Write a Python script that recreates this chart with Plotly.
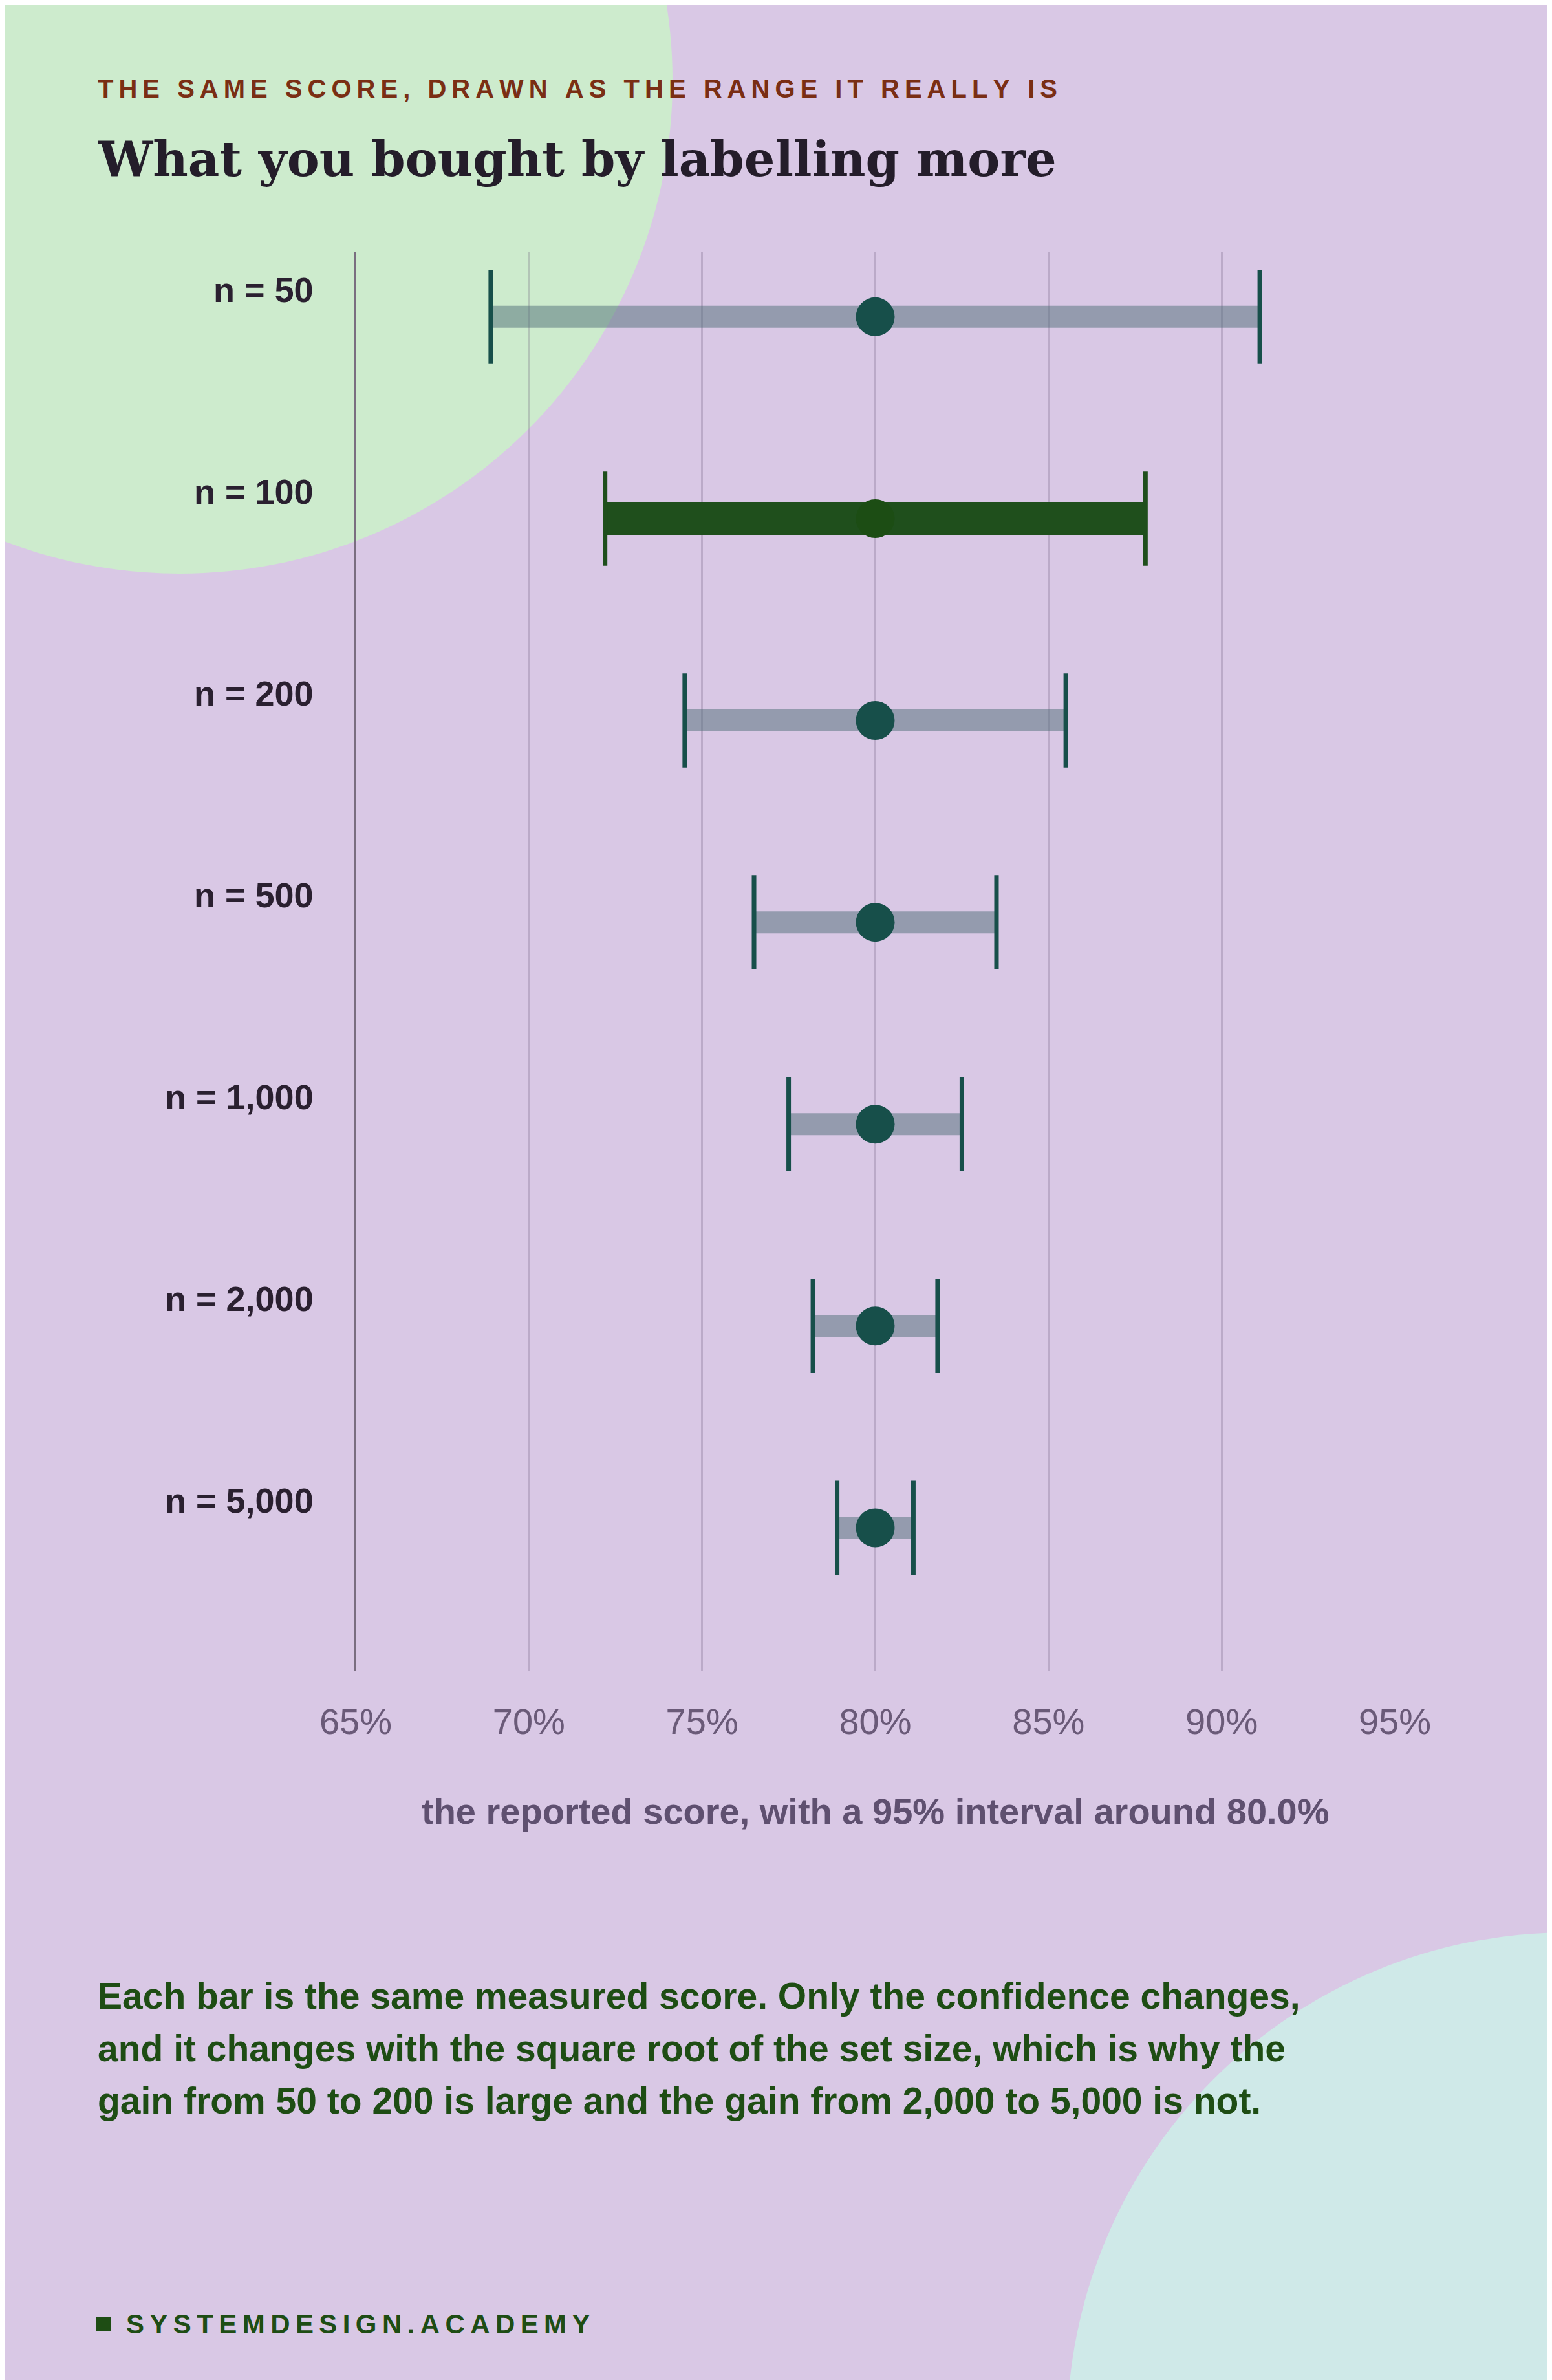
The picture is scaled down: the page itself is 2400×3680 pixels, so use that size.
import plotly.graph_objects as go

# data
sizes = ["n = 50", "n = 100", "n = 200", "n = 500", "n = 1,000", "n = 2,000", "n = 5,000"]
score = [80.0, 80.0, 80.0, 80.0, 80.0, 80.0, 80.0]
lo = [68.9, 72.2, 74.5, 76.5, 77.5, 78.2, 78.9]
hi = [91.1, 87.8, 85.5, 83.5, 82.5, 81.8, 81.1]
highlight = "n = 100"
tick_vals = [65, 70, 75, 80, 85, 90, 95]
tick_text = ["65%", "70%", "75%", "80%", "85%", "90%", "95%"]

W, H = 2400, 3680
BG = "#d9c8e5"
TEAL = "#174f4a"
DARK_GREEN = "#1f4f1c"

def px(y):
    return 1 - y / H

fig = go.Figure()

for i, name in enumerate(sizes):
    hl = name == highlight
    fig.add_trace(go.Scatter(
        x=[lo[i], hi[i]], y=[i, i], mode="lines",
        line=dict(color=DARK_GREEN if hl else "rgba(80,110,120,0.5)", width=52 if hl else 34),
        hoverinfo="skip", showlegend=False))
    fig.add_trace(go.Scatter(
        x=[lo[i], hi[i]], y=[i, i], mode="markers",
        marker=dict(symbol="line-ns", size=104,
                    line=dict(color=DARK_GREEN if hl else TEAL, width=7)),
        hoverinfo="skip", showlegend=False))
    fig.add_trace(go.Scatter(
        x=[score[i]], y=[i], mode="markers",
        marker=dict(size=60, color="#1c4d14" if hl else TEAL),
        hoverinfo="skip", showlegend=False))

annotations = []
for i, name in enumerate(sizes):
    annotations.append(dict(
        text=f"<b>{name}</b>", x=479 / W, xref="paper", y=i, yref="y",
        xanchor="right", yanchor="middle", yshift=42, showarrow=False,
        font=dict(family="Liberation Sans", size=54, color="#2a2030")))

def spaced(s):
    return "\u2009".join(s)

annotations += [
    dict(text=f"<b>{spaced('THE SAME SCORE, DRAWN AS THE RANGE IT REALLY IS')}</b>",
         x=141 / W, y=px(129), xref="paper", yref="paper", xanchor="left", yanchor="middle",
         showarrow=False, font=dict(family="Liberation Sans", size=40, color="#7a2e14")),
    dict(text="What you bought by labelling more",
         x=141 / W, y=px(238), xref="paper", yref="paper", xanchor="left", yanchor="middle",
         showarrow=False, font=dict(family="DejaVu Serif", size=75, color="#241d2a", weight=600)),
    dict(text="<b>the reported score, with a 95% interval around 80.0%</b>",
         x=(542 + 2149) / 2 / W, y=px(2792), xref="paper", yref="paper", xanchor="center",
         yanchor="middle", showarrow=False,
         font=dict(family="Liberation Sans", size=56, color="#5f5070")),
    dict(text=f"<b>{spaced('SYSTEMDESIGN.ACADEMY')}</b>",
         x=185 / W, y=px(3585), xref="paper", yref="paper", xanchor="left", yanchor="middle",
         showarrow=False, font=dict(family="Liberation Sans", size=42, color="#1e4d14")),
]
para = ["Each bar is the same measured score. Only the confidence changes,",
        "and it changes with the square root of the set size, which is why the",
        "gain from 50 to 200 is large and the gain from 2,000 to 5,000 is not."]
for k, line in enumerate(para):
    annotations.append(dict(
        text=f"<b>{line}</b>", x=141 / W, y=px(3078 + 81 * k), xref="paper", yref="paper",
        xanchor="left", yanchor="middle", showarrow=False,
        font=dict(family="Liberation Sans", size=57, color="#1e4d14")))

shapes = [
    dict(type="circle", xref="paper", yref="paper", layer="below",
         x0=(270 - 762) / W, x1=(270 + 762) / W, y0=px(117 + 762), y1=px(117 - 762),
         fillcolor="#cdebcd", line=dict(width=0)),
    dict(type="circle", xref="paper", yref="paper", layer="below",
         x0=(2416 - 774) / W, x1=(2416 + 774) / W, y0=px(3754 + 774), y1=px(3754 - 774),
         fillcolor="#cfe9e8", line=dict(width=0)),
    dict(type="rect", xref="paper", yref="paper",
         x0=141 / W, x1=163 / W, y0=px(3596), y1=px(3574),
         fillcolor="#1e4d14", line=dict(width=0)),
]

fig.update_layout(
    width=W, height=H, margin=dict(l=0, r=0, t=0, b=0, autoexpand=False),
    paper_bgcolor=BG, plot_bgcolor="rgba(0,0,0,0)",
    annotations=annotations, shapes=shapes,
    xaxis=dict(domain=[542 / W, 2149 / W], range=[65, 95], tickvals=tick_vals, ticktext=tick_text,
               showgrid=True, gridcolor="rgba(100,80,115,0.25)", gridwidth=3, zeroline=False,
               ticks="", ticklabelstandoff=40, automargin=False,
               tickfont=dict(family="Liberation Sans", size=56, color="#6a5a78")),
    yaxis=dict(domain=[px(2576), px(382)], range=[6.71, -0.32], showticklabels=False,
               automargin=False,
               showgrid=False, zeroline=False, showline=True, linecolor="#7a6e80", linewidth=3),
)

fig.write_html("out.html")
